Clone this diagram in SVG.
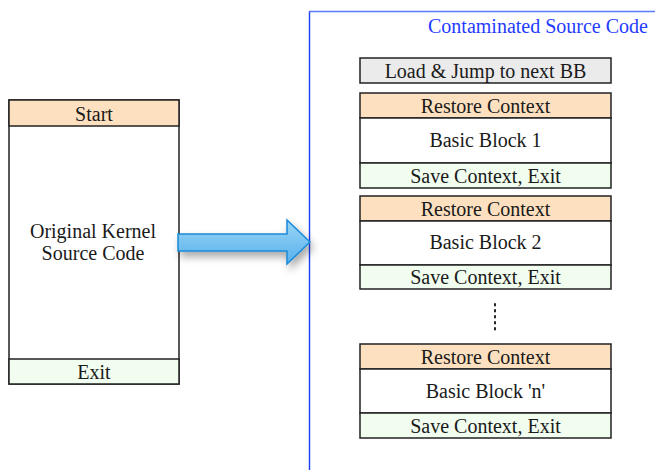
<svg xmlns="http://www.w3.org/2000/svg" width="655" height="470" viewBox="0 0 655 470">
  <style>
    .lbl { font-family: "Liberation Serif", "Times New Roman", serif; font-size: 20px; fill: #1a1a1a; text-anchor: middle; }
    .title { font-family: "Liberation Serif", "Times New Roman", serif; font-size: 20px; fill: #1f3cff; }
    .box { stroke: #222; stroke-width: 1.5; }
    .restore { fill: #fde0c0; }
    .save { fill: #f0fdef; }
    .plain { fill: #ffffff; }
    .load { fill: #ebebeb; }
    .frame { fill: none; stroke-width: 1.4; }
  </style>
  <defs>
    <linearGradient id="arrowFill" x1="0" y1="0" x2="0" y2="1">
      <stop offset="0" stop-color="#9ad6f7"/>
      <stop offset="1" stop-color="#58b0ec"/>
    </linearGradient>
    <filter id="softShadow" x="-20%" y="-40%" width="140%" height="180%">
      <feGaussianBlur in="SourceAlpha" stdDeviation="4"/>
      <feOffset dx="3" dy="5" result="blur"/>
      <feComponentTransfer><feFuncA type="linear" slope="0.35"/></feComponentTransfer>
      <feMerge><feMergeNode/><feMergeNode in="SourceGraphic"/></feMerge>
    </filter>
  </defs>

  <rect width="655" height="470" fill="#ffffff"/>

  <!-- Original kernel source -->
  <g id="original">
    <rect class="box plain" x="9" y="100" width="170" height="284"/>
    <rect class="box restore" x="9" y="100" width="170" height="26"/>
    <text class="lbl" x="94" y="121">Start</text>
    <text class="lbl" x="93" y="238">Original Kernel</text>
    <text class="lbl" x="93" y="260">Source Code</text>
    <rect class="box save" x="9" y="359" width="170" height="25"/>
    <text class="lbl" x="94" y="379">Exit</text>
  </g>

  <!-- Contaminated source frame -->
  <g id="contaminated">
    <line class="frame" x1="309.5" y1="470" x2="309.5" y2="11" stroke="#1a3cf5"/>
    <line class="frame" x1="309" y1="11.5" x2="655" y2="11.5" stroke="#5a7aff"/>
    <text class="title" x="428" y="33">Contaminated Source Code</text>
  </g>

  <g id="load">
    <rect class="box load" x="360" y="58" width="251" height="25"/>
    <text class="lbl" x="485.5" y="78">Load &amp; Jump to next BB</text>
  </g>

  <g id="bb1">
    <rect class="box restore" x="360" y="93" width="251" height="25"/>
    <text class="lbl" x="485.5" y="113">Restore Context</text>
    <rect class="box plain" x="360" y="118" width="251" height="45"/>
    <text class="lbl" x="485.5" y="147">Basic Block 1</text>
    <rect class="box save" x="360" y="163" width="251" height="25"/>
    <text class="lbl" x="485.5" y="183">Save Context, Exit</text>
  </g>

  <g id="bb2">
    <rect class="box restore" x="360" y="196" width="251" height="25"/>
    <text class="lbl" x="485.5" y="216">Restore Context</text>
    <rect class="box plain" x="360" y="221" width="251" height="44"/>
    <text class="lbl" x="485.5" y="249">Basic Block 2</text>
    <rect class="box save" x="360" y="265" width="251" height="24"/>
    <text class="lbl" x="485.5" y="284">Save Context, Exit</text>
  </g>

  <g id="ellipsis">
    <line x1="495" y1="304" x2="495" y2="334" stroke="#222" stroke-width="2" stroke-dasharray="1.5 4.5" stroke-linecap="round"/>
  </g>

  <g id="bbn">
    <rect class="box restore" x="360" y="344" width="251" height="25"/>
    <text class="lbl" x="485.5" y="364">Restore Context</text>
    <rect class="box plain" x="360" y="369" width="251" height="44"/>
    <text class="lbl" x="485.5" y="398">Basic Block 'n'</text>
    <rect class="box save" x="360" y="413" width="251" height="25"/>
    <text class="lbl" x="485.5" y="433">Save Context, Exit</text>
  </g>

  <!-- Transformation arrow -->
  <g id="connectors">
    <path d="M178 234 H287 V220 L310 242 L287 264 V251 H178 Z" fill="url(#arrowFill)" stroke="#1a8ad8" stroke-width="1.5" stroke-linejoin="miter" filter="url(#softShadow)"/>
  </g>
</svg>
